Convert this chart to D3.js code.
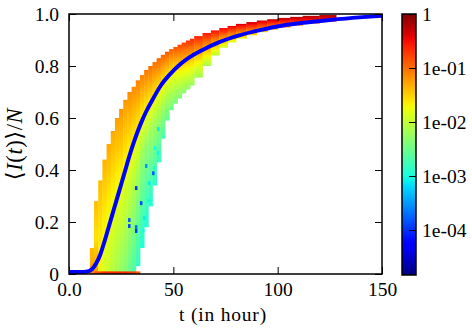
<!DOCTYPE html>
<html>
<head>
<script src="https://cdn.jsdelivr.net/npm/d3@7"></script>
<style>
body { margin: 0; padding: 0; background: #fff; }
.axis path.domain { display: none; }
.axis line { stroke: #000; stroke-width: 1; }
</style>
</head>
<body>
<svg></svg>
<script>
// heatmap columns (hours), one column between two edges
var colEdges = [10,12,14,16,18,20,22,24,26,28,30,32,34,36,38,40,42,44,46,48,50,52,54,56,58,60,64,68,72,76,80,85,90,95,100,106,112,120,128];
// y extent of each column
var colTop = [0.10,0.28,0.36,0.44,0.50,0.55,0.60,0.635,0.67,0.70,0.72,0.745,0.765,0.785,0.80,0.815,0.83,0.843,0.855,0.865,0.873,0.882,0.89,0.898,0.905,0.915,0.927,0.937,0.946,0.954,0.962,0.969,0.975,0.98,0.985,0.989,0.993,0.996];
var colBottom = [0,0,0,0,0,0,0,0,0,0,0,0.03,0.10,0.18,0.26,0.34,0.43,0.52,0.59,0.63,0.655,0.675,0.695,0.71,0.725,0.755,0.80,0.84,0.87,0.89,0.905,0.918,0.93,0.94,0.948,0.955,0.963,0.97];
// log10 of the probability at top, middle and bottom of each column
var colTopLog = [-1.4,-1.4,-1.4,-1.35,-1.3,-1.3,-1.25,-1.2,-1.2,-1.15,-1.15,-1.1,-1.1,-1.05,-1.0,-1.0,-0.95,-0.95,-0.9,-0.9,-0.85,-0.8,-0.75,-0.7,-0.65,-0.6,-0.55,-0.5,-0.45,-0.4,-0.35,-0.3,-0.3,-0.25,-0.25,-0.2,-0.2,-0.2];
var colMidLog = [-1.35,-1.6,-1.6,-1.65,-1.7,-1.75,-1.8,-1.8,-1.9,-1.95,-2.05,-2.15,-2.3,-2.3,-2.25,-2.2,-2.1,-2.0,-1.9,-1.85,-1.8,-1.7,-1.65,-1.6,-1.55,-1.5,-1.4,-1.3,-1.2,-1.1,-1.0,-0.9,-0.85,-0.8,-0.7,-0.6,-0.5,-0.45];
var colBotLog = [-1.05,-1.2,-1.7,-1.9,-2.0,-2.1,-2.2,-2.3,-2.4,-2.55,-2.7,-2.85,-2.95,-2.95,-2.95,-2.9,-2.85,-2.75,-2.6,-2.5,-2.45,-2.4,-2.35,-2.3,-2.25,-2.2,-2.15,-2.05,-1.95,-1.85,-1.75,-1.6,-1.5,-1.4,-1.3,-1.2,-1.1,-1.0];
// bottom row (I = 0) for the first columns
var baseLog = [-1.1,-0.9,-0.75,-0.65,-0.65,-0.65,-0.65,-0.65,-0.65,-0.7,-0.75,-0.9];

// isolated cells at the lower edge
var speckT = [31.6,34.0,28.3,28.3,31.6,31.6,39.8,36.4,40.2,37.9,37.4,35.5,35.0,40.7,42.2,42.0];
var speckV = [0.323,0.265,0.2,0.177,0.173,0.158,0.38,0.408,0.4,0.342,0.273,0.208,0.16,0.477,0.55,0.458];
var speckLog = [-4.0,-3.9,-3.8,-3.9,-3.7,-4.0,-3.8,-3.5,-3.0,-3.1,-3.0,-3.1,-3.0,-3.0,-3.1,-3.05];

// mean curve
var meanT = [0,5,9,11,13,15,17,19,21,23,25,27,29,31,33,35,37,40,44,48,53,58,63,72,82,92,101,111,125,139,150];
var meanV = [0.008,0.008,0.01,0.018,0.04,0.075,0.125,0.18,0.235,0.29,0.345,0.4,0.455,0.505,0.55,0.59,0.625,0.67,0.725,0.765,0.805,0.835,0.858,0.892,0.919,0.939,0.954,0.965,0.977,0.987,0.993];

var xTicks = [0,50,100,150];
var xTickLabels = ['0.0','50','100','150'];
var yTicks = [0,0.2,0.4,0.6,0.8,1.0];
var yTickLabels = ['0','0.2','0.4','0.6','0.8','1.0'];
var cbTicks = [1,0.1,0.01,0.001,0.0001];
var cbTickLabels = ['1','1e-01','1e-02','1e-03','1e-04'];
var colorMin = 1.47e-5;

var FONT = '"Liberation Serif", "Times New Roman", "DejaVu Serif", serif';
var width = 472, height = 330;
var svg = d3.select('svg').attr('width', width).attr('height', height);

var x = d3.scaleLinear().domain([0, 150]).range([69, 382]);
var y = d3.scaleLinear().domain([0, 1]).range([274, 14]);
var cPos = d3.scaleLog().domain([colorMin, 1]).range([0, 1]).clamp(true);

// matplotlib jet
var jetR = d3.scaleLinear().domain([0,0.35,0.66,0.89,1]).range([0,0,1,1,0.5]).clamp(true);
var jetG = d3.scaleLinear().domain([0,0.125,0.375,0.64,0.91,1]).range([0,0,1,1,0,0]).clamp(true);
var jetB = d3.scaleLinear().domain([0,0.11,0.34,0.65,1]).range([0.5,1,1,0,0]).clamp(true);
function jet(p) {
  return d3.rgb(255 * jetR(p), 255 * jetG(p), 255 * jetB(p)).formatHex();
}
function colorOf(logv) {
  return jet(cPos(Math.pow(10, logv)));
}

var defs = svg.append('defs');
defs.append('clipPath').attr('id', 'plotclip')
  .append('rect').attr('x', 69).attr('y', 14).attr('width', 313).attr('height', 260);

// one vertical gradient per column
var cols = colTop.map(function(t, i) {
  return {t0: colEdges[i], t1: colEdges[i + 1], top: t, bot: colBottom[i],
    logs: [colTopLog[i], colMidLog[i], colBotLog[i]], i: i};
});

cols.forEach(function(d) {
  var g = defs.append('linearGradient').attr('id', 'col' + d.i)
    .attr('x1', 0).attr('y1', 0).attr('x2', 0).attr('y2', 1);
  var s = d3.scaleLinear().domain([0, 0.5, 1]).range(d.logs);
  d3.range(0, 1.0001, 0.05).forEach(function(f) {
    g.append('stop').attr('offset', f).attr('stop-color', colorOf(s(f)));
  });
});

var plot = svg.append('g').attr('clip-path', 'url(#plotclip)');

plot.append('g').selectAll('rect')
  .data(cols)
  .enter().append('rect')
  .attr('x', function(d) { return x(d.t0); })
  .attr('width', function(d) { return x(d.t1) - x(d.t0) + 0.4; })
  .attr('y', function(d) { return y(d.top); })
  .attr('height', function(d) { return y(d.bot) - y(d.top); })
  .attr('fill', function(d) { return 'url(#col' + d.i + ')'; });

plot.append('g').selectAll('rect')
  .data(baseLog)
  .enter().append('rect')
  .attr('x', function(d, i) { return x(colEdges[i]); })
  .attr('width', function(d, i) { return x(colEdges[i + 1]) - x(colEdges[i]) + 0.4; })
  .attr('y', y(0.01))
  .attr('height', y(0) - y(0.01))
  .attr('fill', function(d) { return colorOf(d); });

plot.append('g').selectAll('rect')
  .data(speckT)
  .enter().append('rect')
  .attr('x', function(d) { return x(d); })
  .attr('width', x(1.2) - x(0))
  .attr('y', function(d, i) { return y(speckV[i] + 0.015); })
  .attr('height', y(0) - y(0.015))
  .attr('fill', function(d, i) { return colorOf(speckLog[i]); });

var line = d3.line()
  .x(function(d, i) { return x(meanT[i]); })
  .y(function(d) { return y(d); })
  .curve(d3.curveMonotoneX);

plot.append('path')
  .datum(meanV)
  .attr('d', line)
  .attr('fill', 'none')
  .attr('stroke', '#0000ff')
  .attr('stroke-width', 4);

// axes, ticks pointing inward
svg.append('g').attr('class', 'axis')
  .attr('transform', 'translate(0,274)')
  .call(d3.axisBottom(x).tickValues(xTicks).tickSizeInner(-7).tickSizeOuter(0).tickPadding(8)
    .tickFormat(function(d, i) { return xTickLabels[i]; }));
svg.append('g').attr('class', 'axis')
  .attr('transform', 'translate(0,14)')
  .call(d3.axisTop(x).tickValues(xTicks).tickSizeInner(-7).tickSizeOuter(0).tickFormat(''));
svg.append('g').attr('class', 'axis')
  .attr('transform', 'translate(69,0)')
  .call(d3.axisLeft(y).tickValues(yTicks).tickSizeInner(-7).tickSizeOuter(0).tickPadding(10)
    .tickFormat(function(d, i) { return yTickLabels[i]; }));
svg.append('g').attr('class', 'axis')
  .attr('transform', 'translate(382,0)')
  .call(d3.axisRight(y).tickValues(yTicks).tickSizeInner(-7).tickSizeOuter(0).tickFormat(''));

svg.append('rect')
  .attr('x', 69).attr('y', 14).attr('width', 313).attr('height', 260)
  .attr('fill', 'none').attr('stroke', '#000').attr('stroke-width', 1.5);

// colorbar
var cb = d3.scaleLog().domain([colorMin, 1]).range([275, 14]);
var cbGrad = defs.append('linearGradient').attr('id', 'cbgrad')
  .attr('x1', 0).attr('y1', 1).attr('x2', 0).attr('y2', 0);
d3.range(0, 1.0001, 0.02).forEach(function(p) {
  cbGrad.append('stop').attr('offset', p).attr('stop-color', jet(p));
});
svg.append('rect')
  .attr('x', 402).attr('y', 14).attr('width', 14).attr('height', 261)
  .attr('fill', 'url(#cbgrad)').attr('stroke', '#000').attr('stroke-width', 1.5);
svg.append('g').attr('class', 'axis')
  .attr('transform', 'translate(416,0)')
  .call(d3.axisRight(cb).tickValues(cbTicks).tickSizeInner(-7).tickSizeOuter(0).tickPadding(6)
    .tickFormat(function(d, i) { return cbTickLabels[i]; }));

// axis titles
svg.append('text')
  .attr('x', 223).attr('y', 321)
  .attr('text-anchor', 'middle')
  .style('letter-spacing', '0.8px')
  .text('t (in hour)');

var yl = svg.append('text')
  .attr('transform', 'translate(22,144) rotate(-90)')
  .attr('text-anchor', 'middle')
  .style('font-size', '22.5px')
  .style('letter-spacing', '0.6px');
yl.append('tspan').text('\u27E8');
yl.append('tspan').attr('font-style', 'italic').text('I');
yl.append('tspan').text('(');
yl.append('tspan').attr('font-style', 'italic').text('t');
yl.append('tspan').text(')\u27E9/');
yl.append('tspan').attr('font-style', 'italic').text('N');

svg.selectAll('text')
  .style('font-family', FONT)
  .attr('fill', '#000');
svg.selectAll('.axis text').style('font-size', '19.5px');
svg.selectAll('text').filter(function() { return !this.style.fontSize; })
  .style('font-size', '19.5px');
</script>
</body>
</html>
